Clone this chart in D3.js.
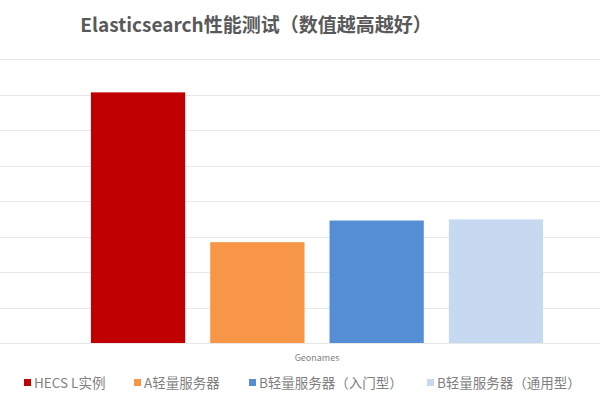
<!DOCTYPE html>
<html><head><meta charset="utf-8">
<script src="https://cdn.jsdelivr.net/npm/d3@7"></script>
<style>body{margin:0;background:#fff}svg{display:block}</style>
</head><body>
<svg id="c" width="600" height="400"></svg>
<script>
const title = "Elasticsearch性能测试（数值越高越好）";
const category = "Geonames";
const seriesNames = ["HECS L实例", "A轻量服务器", "B轻量服务器（入门型）", "B轻量服务器（通用型）"];
const seriesValues = [70.6, 28.4, 34.5, 34.8];
const seriesColors = ["#C00000", "#F79646", "#558ED5", "#C6D9F1"];
const yTicks = [0, 10, 20, 30, 40, 50, 60, 70, 80];
const legendX = [23, 133, 248, 426];

const svg = d3.select("#c");
const font = "'Noto Sans CJK SC','Noto Sans',sans-serif";

const y = d3.scaleLinear().domain([0, 80]).range([343, 59]);
const x = d3.scaleBand().domain(seriesNames).range([0, 634]).paddingInner(0.21).paddingOuter(0.762);

// gridlines
svg.append("g").selectAll("line").data(yTicks).join("line")
  .attr("x1", 0).attr("x2", 600)
  .attr("y1", d => Math.round(y(d)) + 0.5).attr("y2", d => Math.round(y(d)) + 0.5)
  .attr("stroke", "#e8e8e8").attr("stroke-width", 1.2);

// bars
svg.append("g").selectAll("rect").data(seriesNames).join("rect")
  .attr("x", d => x(d)).attr("width", x.bandwidth())
  .attr("y", (d, i) => y(seriesValues[i]))
  .attr("height", (d, i) => y(0) - y(seriesValues[i]))
  .attr("fill", (d, i) => seriesColors[i]);

// title
svg.append("text").attr("x", 256).attr("y", 32).attr("text-anchor", "middle")
  .attr("font-family", font).attr("font-weight", "bold").attr("font-size", 19)
  .attr("fill", "#595959").text(title);

// category label
svg.append("text").attr("x", 317).attr("y", 361).attr("text-anchor", "middle")
  .attr("font-family", font).attr("font-size", 9).attr("fill", "#7f7f7f").text(category);

// legend
const lg = svg.append("g").selectAll("g").data(seriesNames).join("g")
  .attr("transform", (d, i) => `translate(${legendX[i]},383)`);
lg.append("rect").attr("x", 1).attr("y", -4).attr("width", 7).attr("height", 7)
  .attr("fill", (d, i) => seriesColors[i]);
lg.append("text").attr("x", 11).attr("y", 5)
  .attr("font-family", font).attr("font-size", 13.5).attr("fill", "#7f7f7f").text(d => d);
</script>
</body></html>
